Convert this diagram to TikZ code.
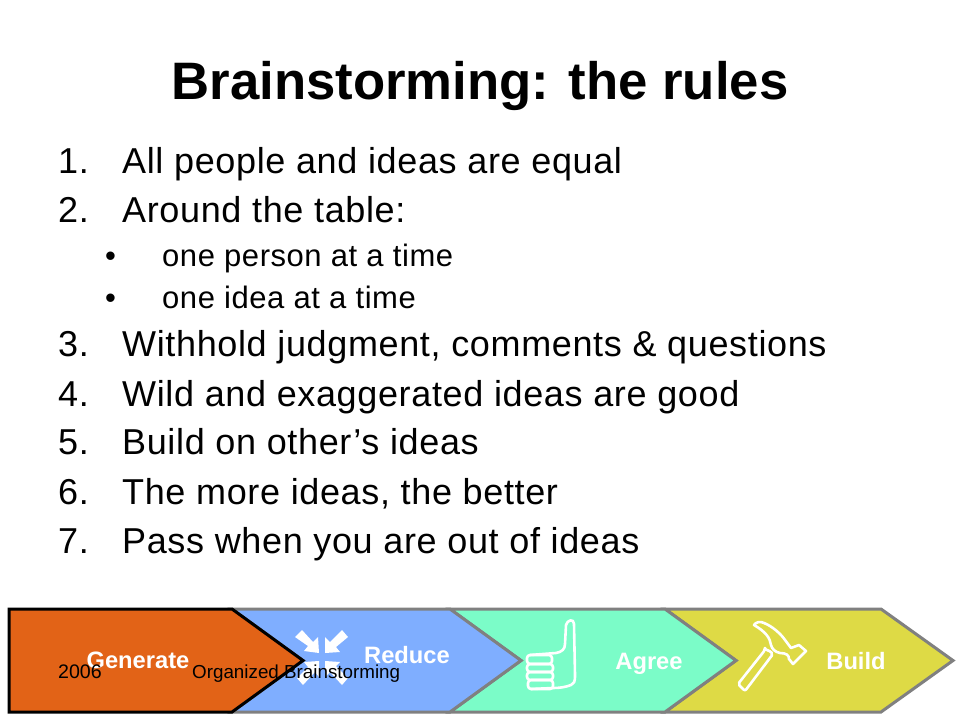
\documentclass[tikz,border=0pt]{standalone}
\usepackage{fontspec}
\setmainfont{Liberation Sans}
\newfontfamily\spaced[LetterSpace=1.8]{Liberation Sans}
\tikzset{
 chev/.style={draw=grayline,line width=3pt,line join=miter},
 body/.style={anchor=base west,inner sep=0pt,font=\spaced\fontsize{36}{36}\selectfont,text=black},
 sub/.style={anchor=base west,inner sep=0pt,font=\spaced\fontsize{31}{31}\selectfont,text=black},
 lab/.style={anchor=base,inner sep=0pt,font=\fontsize{23.7}{24}\selectfont\bfseries,text=white},
 foot/.style={anchor=base west,inner sep=0pt,font=\fontsize{18.8}{19}\selectfont,text=black},
 icon/.style={draw=white,line width=2.6pt,line join=round,line cap=round},
}
\definecolor{grayline}{HTML}{808080}
\definecolor{cgen}{HTML}{E26317}
\definecolor{cred}{HTML}{7FAEFF}
\definecolor{cagr}{HTML}{7BFCC8}
\definecolor{cbui}{HTML}{DEDA45}
\begin{document}
\begin{tikzpicture}[x=1pt,y=-1pt]
\useasboundingbox (0,0) rectangle (960,720);
\fill[white] (0,0) rectangle (960,720);
\node[anchor=base,inner sep=0pt,font=\fontsize{52.7}{53}\selectfont\bfseries] (title) at (480,99) {Brainstorming: the rules};
\foreach \n/\y/\t in {1/173/All people and ideas are equal,2/222/Around the table:,3/356/{Withhold judgment, comments \& questions},4/406/Wild and exaggerated ideas are good,5/454/Build on other’s ideas,6/504/{The more ideas, the better},7/553/Pass when you are out of ideas}{
 \node[body] (num\n) at (58,\y) {\n.};
 \node[body] (item\n) at (122,\y) {\t};
}
\foreach \k/\y/\t in {a/266/one person at a time,b/308/one idea at a time}{
 \node[sub] (bul\k) at (105,\y) {•};
 \node[sub] (subi\k) at (162,\y) {\t};
}
% chevrons back to front
\draw[chev,fill=cbui] (665,609) -- (881,609) -- (953,660.5) -- (881,712) -- (665,712) -- (736,660.5) -- cycle;
\draw[chev,fill=cagr] (450,609) -- (665,609) -- (736,660.5) -- (665,712) -- (450,712) -- (521,660.5) -- cycle;
\draw[chev,fill=cred] (232,609) -- (450,609) -- (521,660.5) -- (450,712) -- (232,712) -- (303,660.5) -- cycle;
% reduce icon
\fill[white] (295,637) -- (302,630) -- (313,642) -- (318,637) -- (319,653) -- (304,651) -- (308,646) -- cycle;
\fill[white] (348,637) -- (342,630) -- (330,642) -- (325,637) -- (325,653) -- (340,652) -- (336,647) -- cycle;
\fill[white] (319,661) -- (319,677) -- (315,672) -- (303,685) -- (297,678) -- (308,667) -- (304,662) -- cycle;
\fill[white] (325,661) -- (340,662) -- (336,666) -- (348,678) -- (342,685) -- (330,672) -- (325,677) -- cycle;
% thumb
\draw[icon] (530,655) -- (556,653) .. controls (562,652) and (565,649) .. (565,644) -- (566,625) .. controls (567,620) and (574,618) .. (574,624) -- (575,675) .. controls (575,682) and (574,684) .. (571,685) .. controls (566,687) and (560,688) .. (553,688) -- (531,689);
\draw[icon,rounded corners=3pt] (527,655) rectangle (552,664);
\draw[icon,rounded corners=3pt] (527,664) rectangle (553,672);
\draw[icon,rounded corners=3pt] (527,672) rectangle (553,680);
\draw[icon,rounded corners=3pt] (528,680) rectangle (553,689);
% hammer
\draw[icon] (754,625) .. controls (756,622) and (760,621) .. (764,623) .. controls (772,626) and (781,634) .. (785,640) -- (791,648) -- (799,645) -- (806,651) -- (793,664) -- (789,659) .. controls (789,655) and (786,653) .. (780,653) .. controls (775,652) and (772,649) .. (771,645) .. controls (770,638) and (766,632) .. (754,625) -- cycle;
\draw[icon,rounded corners=2pt] (765,650) -- (738,684) -- (745,691) -- (773,654) .. controls (771,652) and (768,650) .. (765,650) -- cycle;
% labels
\node[lab] (lred) at (407,663) {Reduce};
\node[lab] (lagr) at (649,669) {Agree};
\node[lab] (lbui) at (856,669) {Build};
% generate on top
\draw[draw=black,line width=3pt,fill=cgen,line join=miter] (9,609) -- (232,609) -- (303,660.5) -- (232,712) -- (9,712) -- cycle;
\node[lab] (lgen) at (138,668) {Generate};
\node[foot,font=\fontsize{19.6}{20}\selectfont] (year) at (58,678) {2006};
\node[foot] (org) at (192,678) {Organized Brainstorming};
\end{tikzpicture}
\end{document}
